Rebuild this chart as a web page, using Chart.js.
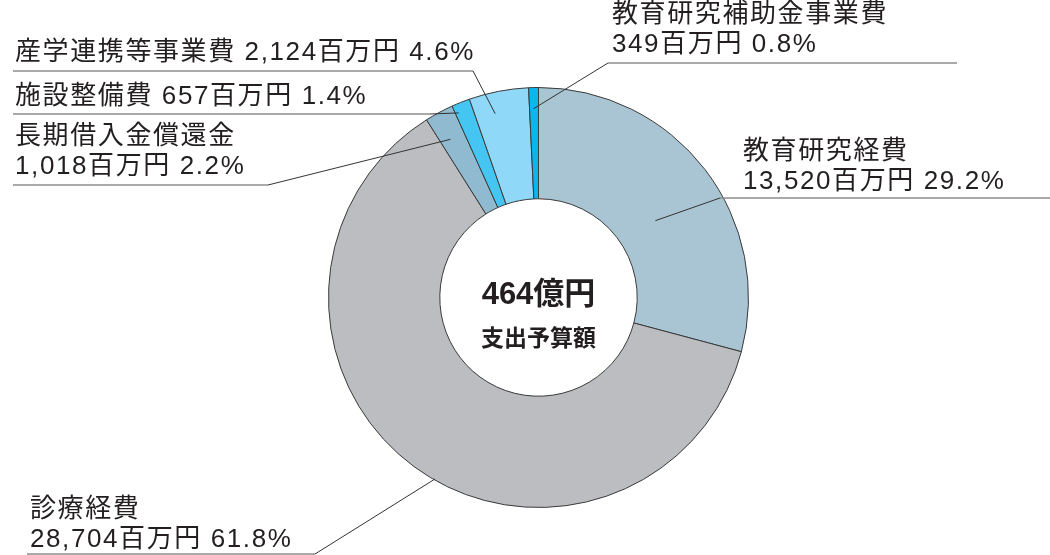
<!DOCTYPE html>
<html lang="ja">
<head>
<meta charset="utf-8">
<script src="https://cdn.jsdelivr.net/npm/chart.js@4"></script>
<style>
  html,body{margin:0;padding:0;background:#fff;}
  #wrap{width:1050px;height:555px;position:relative;}
</style>
</head>
<body>
<div id="wrap"><canvas id="pie"></canvas></div>
<script>
// ===== データ（百万円） =====
const NAMES  = ['教育研究経費', '診療経費', '長期借入金償還金', '施設整備費', '産学連携等事業費', '教育研究補助金事業費'];
const VALUES = [13520, 28704, 1018, 657, 2124, 349];
const PCTS   = ['29.2', '61.8', '2.2', '1.4', '4.6', '0.8'];
const COLORS = ['#a9c5d4', '#bcbdc1', '#8fbad0', '#45c6f2', '#8fd8f7', '#0ab6ee'];
const TOTAL_TEXT = '464億円';
const SUB_TEXT = '支出予算額';

// ラベル配置（x,y=1行目中心, two=2行に分ける, 下線, 引出線の扇内位置 t/rf）
const LAYOUT = [
  { x: 743, y: 152, two: true,  ux0: 720, ux1: 1050, uy: 198, t: 0.54, rf: 0.37 },
  { x: 30,  y: 510, two: true,  ux0: 27,  ux1: 315,  uy: 554, t: 0.47, rf: 0.99 },
  { x: 15,  y: 137, two: true,  ux0: 13,  ux1: 268,  uy: 185, t: 0.39, rf: 0.74 },
  { x: 15,  y: 97,  two: false, ux0: 13,  ux1: 430,  uy: 114, t: 0.18, rf: 0.92 },
  { x: 15,  y: 53,  two: false, ux0: 13,  ux1: 473,  uy: 71,  t: 0.36, rf: 0.81 },
  { x: 612, y: 15,  two: true,  ux0: 608, ux1: 957,  uy: 63,  t: 0.45, rf: 0.81 }
];

const FONT = '"Liberation Sans", "Noto Sans CJK JP", sans-serif';
const fmt = n => n.toLocaleString('ja-JP');

// ===== ラベルと引出線 =====
const callouts = {
  id: 'callouts',
  afterDraw(c) {
    const { ctx } = c;
    const arcs = c.getDatasetMeta(0).data;
    ctx.save();
    arcs.forEach((a, i) => {
      const L = LAYOUT[i];
      const p = a.getProps(['x', 'y', 'startAngle', 'endAngle', 'innerRadius', 'outerRadius'], true);
      const ang = p.startAngle + L.t * (p.endAngle - p.startAngle);
      const r = p.innerRadius + L.rf * (p.outerRadius - p.innerRadius);
      const ax = p.x + Math.cos(ang) * r, ay = p.y + Math.sin(ang) * r;
      // 下線
      const ex = L.x > p.x ? L.ux0 : L.ux1; // 右側ラベルは下線の左端から、左側は右端から
      ctx.strokeStyle = '#8c8c8c'; ctx.lineWidth = 1.5;
      ctx.beginPath(); ctx.moveTo(L.ux0, L.uy); ctx.lineTo(L.ux1, L.uy); ctx.stroke();
      // 引出線
      ctx.strokeStyle = '#333'; ctx.lineWidth = 1;
      ctx.beginPath(); ctx.moveTo(ex, L.uy); ctx.lineTo(ax, ay); ctx.stroke();
      // テキスト
      ctx.fillStyle = '#231f20';
      ctx.font = `26px ${FONT}`;
      ctx.textAlign = 'left'; ctx.textBaseline = 'middle';
      ctx.letterSpacing = '1.6px';
      const tail = `${fmt(VALUES[i])}百万円 ${PCTS[i]}%`;
      if (L.two) {
        ctx.fillText(NAMES[i], L.x, L.y);
        ctx.fillText(tail, L.x, L.y + 30);
      } else {
        ctx.fillText(NAMES[i] + ' ' + tail, L.x, L.y);
      }
    });
    // 中央
    const a0 = arcs[0];
    ctx.letterSpacing = '0px';
    ctx.textAlign = 'center';
    ctx.fillStyle = '#231f20';
    ctx.font = `bold 31px ${FONT}`;
    ctx.fillText(TOTAL_TEXT, a0.x, a0.y - 2);
    ctx.font = `bold 23px "Noto Sans CJK JP", sans-serif`;
    ctx.fillText(SUB_TEXT, a0.x, a0.y + 40);
    ctx.restore();
  }
};

new Chart(document.getElementById('pie'), {
  type: 'doughnut',
  data: {
    labels: NAMES,
    datasets: [{
      data: VALUES,
      backgroundColor: COLORS,
      borderColor: '#3a3a3a',
      borderWidth: 1,
      hoverOffset: 0
    }]
  },
  options: {
    responsive: true, maintainAspectRatio: false, animation: false,
    cutout: '47%',
    layout: { padding: { left: 328, right: 301, top: 87, bottom: 47 } },
    plugins: { legend: { display: false }, tooltip: { enabled: false } },
    events: []
  },
  plugins: [callouts]
});
</script>
</body>
</html>
